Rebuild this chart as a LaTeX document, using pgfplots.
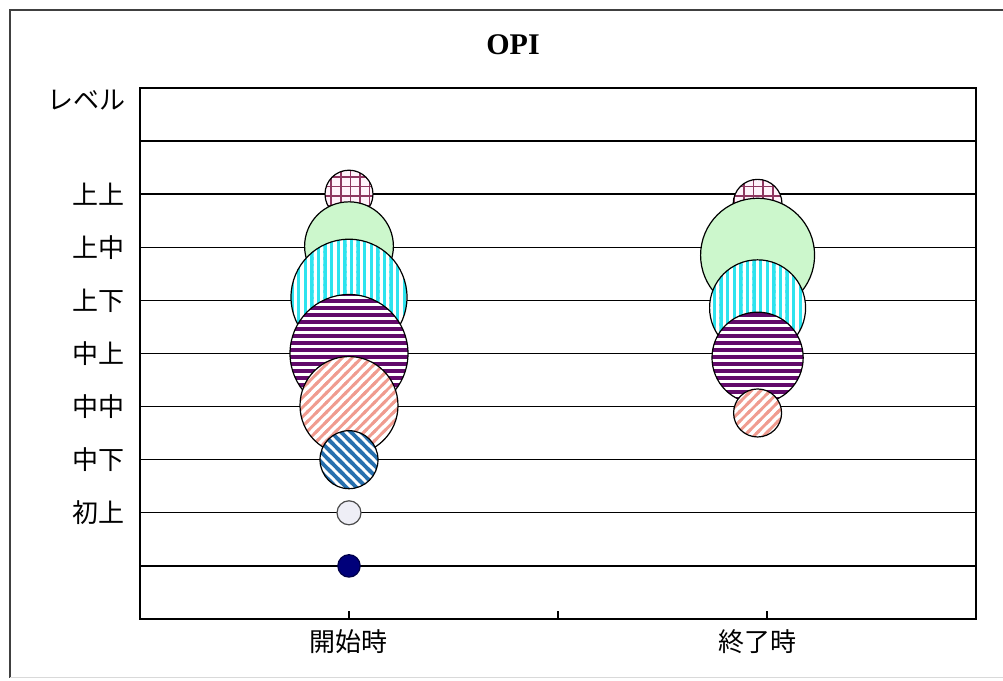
\documentclass[border=0pt]{standalone}
\usepackage{fontspec}
\setmainfont{Noto Sans CJK JP}
\newfontfamily\titlefont{Liberation Serif}
\usepackage{pgfplots}
\pgfplotsset{compat=1.18}
\usetikzlibrary{patterns}

\definecolor{bgreen}{HTML}{CCF7CC}
\definecolor{bcyan}{HTML}{2EE3EE}
\definecolor{bpurple}{HTML}{620A6A}
\definecolor{bsalmon}{HTML}{F09C90}
\definecolor{bblue}{HTML}{2870AE}
\definecolor{bgridc}{HTML}{8E3660}
\definecolor{bpinkbg}{HTML}{FFF2FA}
\definecolor{bwhite}{HTML}{EEEEF6}
\definecolor{bnavy}{HTML}{00007A}

% striped bubble patterns (tiles overlap slightly to avoid seams)
\pgfdeclarepatternformonly{pvert}{\pgfpoint{0pt}{-0.6pt}}{\pgfpoint{1.7pt}{3.9pt}}{\pgfpoint{3.3pt}{3.3pt}}{%
  \pgfpathrectangle{\pgfpoint{0pt}{-0.6pt}}{\pgfpoint{1.7pt}{4.5pt}}\pgfusepathqfill}
\pgfdeclarepatternformonly{phoriz}{\pgfpoint{-0.6pt}{0pt}}{\pgfpoint{4.1pt}{1.9pt}}{\pgfpoint{3.5pt}{3.5pt}}{%
  \pgfpathrectangle{\pgfpoint{-0.6pt}{0pt}}{\pgfpoint{4.7pt}{1.9pt}}\pgfusepathqfill}
\pgfdeclarepatternformonly{pne}{\pgfpoint{-0.6pt}{-0.6pt}}{\pgfpoint{5.4pt}{5.4pt}}{\pgfpoint{4.8pt}{4.8pt}}{%
  \pgfsetlinewidth{1.4pt}%
  \pgfpathmoveto{\pgfpoint{-1.5pt}{-1.5pt}}\pgfpathlineto{\pgfpoint{6.3pt}{6.3pt}}%
  \pgfpathmoveto{\pgfpoint{-3pt}{1.8pt}}\pgfpathlineto{\pgfpoint{3pt}{7.8pt}}%
  \pgfpathmoveto{\pgfpoint{1.8pt}{-3pt}}\pgfpathlineto{\pgfpoint{7.8pt}{3pt}}%
  \pgfusepathqstroke}
\pgfdeclarepatternformonly{pnw}{\pgfpoint{-0.6pt}{-0.6pt}}{\pgfpoint{5.6pt}{5.6pt}}{\pgfpoint{5pt}{5pt}}{%
  \pgfsetlinewidth{1.8pt}%
  \pgfpathmoveto{\pgfpoint{-1.5pt}{6.5pt}}\pgfpathlineto{\pgfpoint{6.5pt}{-1.5pt}}%
  \pgfpathmoveto{\pgfpoint{-3pt}{3pt}}\pgfpathlineto{\pgfpoint{3pt}{-3pt}}%
  \pgfpathmoveto{\pgfpoint{2pt}{8pt}}\pgfpathlineto{\pgfpoint{8pt}{2pt}}%
  \pgfusepathqstroke}
\pgfdeclarepatternformonly{pgridp}{\pgfpoint{-0.5pt}{-0.5pt}}{\pgfpoint{5.3pt}{5.3pt}}{\pgfpoint{4.8pt}{4.8pt}}{%
  \pgfsetlinewidth{0.8pt}%
  \pgfpathmoveto{\pgfpoint{2.4pt}{-0.5pt}}\pgfpathlineto{\pgfpoint{2.4pt}{5.3pt}}%
  \pgfpathmoveto{\pgfpoint{-0.5pt}{2.4pt}}\pgfpathlineto{\pgfpoint{5.3pt}{2.4pt}}%
  \pgfusepathqstroke}

\newcommand\defbubble[4]{\pgfdeclareplotmark{#1}{%
  \pgfpathcircle{\pgfpointorigin}{\pgfplotmarksize}\pgfsetfillcolor{#2}\pgfusepathqfill
  \pgfpathcircle{\pgfpointorigin}{\pgfplotmarksize}\pgfsetfillpattern{#3}{#4}\pgfusepathqfillstroke}}
\defbubble{bubgrid}{bpinkbg}{pgridp}{bgridc}
\defbubble{bubvert}{white}{pvert}{bcyan}
\defbubble{bubhoriz}{white}{phoriz}{bpurple}
\defbubble{bubne}{white}{pne}{bsalmon}
\defbubble{bubnw}{white}{pnw}{bblue}

\begin{document}
\begin{tikzpicture}
\draw[line width=1pt, black!75] (510pt,335.5pt) -- (5pt,335.5pt) -- (5pt,1.5pt);
\draw[line width=0.5pt, black!15] (5pt,1.5pt) -- (510pt,1.5pt);
\node[font=\titlefont\bfseries\fontsize{15pt}{17pt}\selectfont] at (256.5pt,318pt) {OPI};
\node[anchor=east, font=\fontsize{13pt}{15pt}\selectfont, inner sep=0pt] at (63pt,290.5pt) {レベル};
\begin{axis}[
  at={(70pt,31pt)}, anchor=south west,
  scale only axis, width=418pt, height=265.5pt,
  xmin=0, xmax=4, ymin=0, ymax=10,
  axis line style={line width=0.9pt, black},
  xtick={1,2,3}, xticklabels={},
  tick pos=left,
  tick align=inside, major tick length=4pt,
  tick style={black, line width=0.7pt},
  extra x ticks={1,2.955}, extra x tick labels={開始時,終了時},
  extra x tick style={major tick length=0pt},
  ytick={1,...,9}, yticklabels={,初上,中下,中中,中上,上下,上中,上上,},
  ymajorgrids, grid style={black, line width=0.7pt},
  ticklabel style={font=\fontsize{13pt}{15pt}\selectfont},
  yticklabel style={xshift=-4pt},
  xticklabel style={yshift=-2pt},
]
% order: drawn back to front
\addplot[black, only marks, mark=bubgrid, mark size=12pt, mark options={line width=0.6pt}] coordinates {(1,8)};
\addplot[black, only marks, mark=bubgrid, mark size=12.2pt, mark options={line width=0.6pt}] coordinates {(2.955,7.82)};
\addplot[black, only marks, mark=*, mark size=22.2pt, mark options={fill=bgreen, line width=0.6pt}] coordinates {(1,7.02)};
\addplot[black, only marks, mark=*, mark size=28.5pt, mark options={fill=bgreen, line width=0.6pt}] coordinates {(2.955,6.85)};
\addplot[black, only marks, mark=bubvert, mark size=29pt, mark options={line width=0.6pt}] coordinates {(1,6.06)};
\addplot[black, only marks, mark=bubvert, mark size=24pt, mark options={line width=0.6pt}] coordinates {(2.955,5.86)};
\addplot[black, only marks, mark=bubhoriz, mark size=29.5pt, mark options={line width=0.6pt}] coordinates {(1,5.0)};
\addplot[black, only marks, mark=bubhoriz, mark size=22.8pt, mark options={line width=0.6pt}] coordinates {(2.955,4.92)};
\addplot[black, only marks, mark=bubne, mark size=24.5pt, mark options={line width=0.6pt}] coordinates {(1,4.02)};
\addplot[black, only marks, mark=bubne, mark size=12pt, mark options={line width=0.6pt}] coordinates {(2.955,3.88)};
\addplot[black, only marks, mark=bubnw, mark size=14.5pt, mark options={line width=0.6pt}] coordinates {(1,3.0)};
\addplot[black!70, only marks, mark=*, mark size=6pt, mark options={fill=bwhite, line width=0.6pt}] coordinates {(1,2.0)};
\addplot[bnavy!60!black, only marks, mark=*, mark size=5.6pt, mark options={fill=bnavy, line width=0.6pt}] coordinates {(1,1.0)};
\end{axis}
\pgfresetboundingbox
\useasboundingbox (0,0) rectangle (501.5pt,340.5pt);
\end{tikzpicture}
\end{document}
